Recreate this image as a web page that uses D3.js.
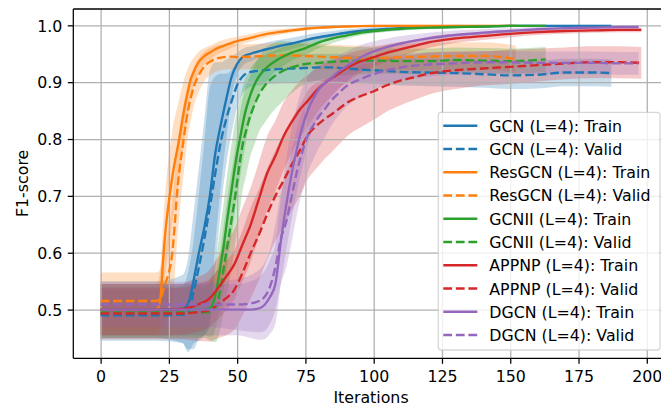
<!DOCTYPE html>
<html>
<head>
<meta charset="utf-8">
<script src="https://cdn.jsdelivr.net/npm/d3@7"></script>
<style>
  html, body { margin: 0; padding: 0; background: #fff; }
  svg { display: block; font-family: "DejaVu Sans", sans-serif; }
</style>
</head>
<body>
<svg id="chart" width="661" height="407"></svg>
<script>
// ---- Training curves (mean and std over runs), F1-score per iteration ----
const gcnIter  = [0,10,20,30,32,34,36,38,40,42,44,46,48,50,52,55,60,65,70,75,80,85,90,95,100,110,120,130,140,150,160,170,180,187];
const gcnTrain = [0.500,0.500,0.500,0.501,0.510,0.550,0.600,0.645,0.700,0.775,0.825,0.870,0.910,0.932,0.944,0.950,0.957,0.963,0.968,0.974,0.979,0.983,0.987,0.990,0.992,0.995,0.997,0.998,0.998,0.999,0.999,0.999,0.999,0.999];
const gcnTrainStd = [0.05,0.05,0.05,0.06,0.08,0.12,0.15,0.19,0.22,0.16,0.11,0.07,0.035,0.02,0.015,0.013,0.012,0.011,0.01,0.009,0.008,0.007,0.006,0.005,0.005,0.004,0.003,0.003,0.002,0.002,0.002,0.002,0.002,0.002];
const gcnValid = [0.490,0.490,0.490,0.491,0.495,0.530,0.575,0.625,0.680,0.740,0.795,0.835,0.867,0.895,0.910,0.918,0.921,0.923,0.924,0.925,0.926,0.926,0.924,0.922,0.921,0.918,0.917,0.916,0.914,0.912,0.913,0.917,0.917,0.916];
const gcnValidStd = [0.045,0.045,0.045,0.05,0.07,0.09,0.13,0.17,0.21,0.17,0.12,0.08,0.055,0.04,0.03,0.026,0.025,0.025,0.025,0.024,0.024,0.024,0.024,0.024,0.024,0.024,0.024,0.024,0.024,0.024,0.024,0.024,0.024,0.024];

const resIter  = [0,10,20,21,22,23,24,25,26,27,28,29,30,31,32,33,34,36,38,40,42,45,48,50,55,60,65,70,75,80,85,90,100,110,120,130,140,145,150,152];
const resTrain = [0.500,0.500,0.500,0.503,0.525,0.595,0.650,0.690,0.725,0.755,0.780,0.805,0.835,0.862,0.885,0.905,0.917,0.936,0.946,0.952,0.958,0.964,0.969,0.972,0.978,0.984,0.988,0.991,0.994,0.996,0.997,0.998,0.999,0.999,0.999,0.999,0.999,0.999,0.999,0.999];
const resTrainStd = [0.045,0.045,0.045,0.045,0.055,0.065,0.075,0.08,0.08,0.08,0.075,0.07,0.06,0.05,0.04,0.03,0.025,0.018,0.014,0.012,0.011,0.01,0.009,0.008,0.007,0.006,0.005,0.004,0.003,0.003,0.002,0.002,0.002,0.002,0.002,0.002,0.002,0.002,0.002,0.002];
const resValid = [0.515,0.515,0.515,0.516,0.520,0.535,0.550,0.565,0.590,0.640,0.705,0.750,0.785,0.820,0.850,0.872,0.890,0.913,0.928,0.936,0.941,0.944,0.945,0.944,0.945,0.946,0.947,0.947,0.946,0.945,0.944,0.943,0.942,0.944,0.945,0.946,0.946,0.945,0.942,0.940];
const resValidStd = [0.05,0.05,0.05,0.05,0.055,0.06,0.07,0.08,0.09,0.09,0.085,0.075,0.065,0.055,0.045,0.04,0.035,0.03,0.026,0.024,0.023,0.022,0.022,0.022,0.022,0.022,0.022,0.022,0.022,0.022,0.022,0.022,0.022,0.023,0.024,0.024,0.024,0.024,0.024,0.024];

const gcn2Iter  = [0,10,20,30,38,40,41,42,43,44,45,46,47,48,49,50,51,52,53,54,55,56,58,60,63,66,70,75,80,85,90,95,100,110,120,130,140,150,160,163];
const gcn2Train = [0.500,0.500,0.500,0.500,0.500,0.502,0.508,0.525,0.550,0.580,0.610,0.645,0.680,0.712,0.745,0.775,0.800,0.825,0.848,0.865,0.880,0.892,0.910,0.922,0.934,0.943,0.952,0.960,0.970,0.977,0.982,0.987,0.990,0.994,0.996,0.997,0.998,0.999,0.999,0.999];
const gcn2TrainStd = [0.045,0.045,0.045,0.045,0.045,0.05,0.055,0.06,0.065,0.07,0.075,0.08,0.08,0.08,0.08,0.075,0.07,0.065,0.06,0.05,0.045,0.04,0.032,0.026,0.02,0.017,0.014,0.012,0.01,0.008,0.006,0.005,0.004,0.003,0.003,0.002,0.002,0.002,0.002,0.002];
const gcn2Valid = [0.495,0.495,0.495,0.495,0.495,0.496,0.498,0.503,0.515,0.540,0.570,0.600,0.630,0.660,0.690,0.725,0.760,0.790,0.810,0.828,0.843,0.856,0.878,0.893,0.908,0.918,0.926,0.932,0.934,0.936,0.937,0.938,0.938,0.937,0.937,0.939,0.938,0.937,0.939,0.940];
const gcn2ValidStd = [0.045,0.045,0.045,0.045,0.045,0.05,0.055,0.06,0.065,0.07,0.075,0.08,0.085,0.085,0.085,0.085,0.085,0.08,0.08,0.075,0.07,0.07,0.065,0.065,0.06,0.055,0.045,0.035,0.03,0.027,0.025,0.024,0.023,0.022,0.022,0.022,0.022,0.022,0.022,0.022];

const appnpIter  = [0,10,20,25,30,35,40,43,46,49,52,55,58,61,64,67,70,73,76,79,82,85,88,91,95,100,105,110,115,120,130,140,150,160,170,180,190,198];
const appnpTrain = [0.500,0.500,0.500,0.500,0.501,0.508,0.520,0.538,0.558,0.580,0.615,0.650,0.695,0.740,0.770,0.805,0.830,0.852,0.868,0.885,0.898,0.908,0.918,0.927,0.936,0.944,0.952,0.958,0.964,0.970,0.977,0.981,0.985,0.988,0.990,0.991,0.992,0.992];
const appnpTrainStd = [0.045,0.045,0.045,0.045,0.045,0.048,0.05,0.055,0.06,0.062,0.065,0.065,0.065,0.065,0.062,0.06,0.055,0.05,0.045,0.04,0.035,0.03,0.027,0.024,0.02,0.017,0.015,0.013,0.011,0.01,0.008,0.007,0.006,0.005,0.005,0.004,0.004,0.004];
const appnpValid = [0.493,0.493,0.493,0.493,0.493,0.495,0.499,0.510,0.520,0.535,0.565,0.600,0.632,0.668,0.700,0.727,0.755,0.780,0.808,0.823,0.835,0.845,0.856,0.866,0.875,0.884,0.895,0.903,0.909,0.915,0.921,0.924,0.927,0.930,0.933,0.935,0.935,0.934];
const appnpValidStd = [0.045,0.045,0.045,0.045,0.045,0.05,0.055,0.06,0.065,0.07,0.075,0.08,0.08,0.08,0.08,0.08,0.08,0.08,0.078,0.075,0.07,0.066,0.062,0.058,0.055,0.05,0.046,0.043,0.04,0.037,0.033,0.03,0.03,0.029,0.028,0.028,0.028,0.028];

const dgcnIter  = [0,10,20,30,40,50,55,58,60,62,64,66,68,70,72,74,76,78,80,82,84,87,90,95,100,105,110,120,130,140,150,160,170,180,190,197];
const dgcnTrain = [0.500,0.500,0.500,0.500,0.500,0.500,0.500,0.502,0.508,0.522,0.545,0.620,0.685,0.740,0.785,0.823,0.852,0.872,0.888,0.898,0.905,0.918,0.928,0.943,0.954,0.962,0.968,0.977,0.983,0.987,0.990,0.993,0.995,0.996,0.997,0.997];
const dgcnTrainStd = [0.045,0.045,0.045,0.045,0.045,0.045,0.05,0.055,0.06,0.065,0.07,0.075,0.08,0.08,0.075,0.07,0.06,0.05,0.045,0.04,0.035,0.03,0.026,0.022,0.018,0.015,0.013,0.01,0.008,0.006,0.005,0.004,0.004,0.003,0.003,0.003];
const dgcnValid = [0.509,0.509,0.509,0.509,0.509,0.509,0.511,0.515,0.522,0.540,0.575,0.625,0.655,0.700,0.745,0.780,0.808,0.825,0.840,0.852,0.865,0.880,0.893,0.905,0.914,0.921,0.926,0.931,0.933,0.935,0.935,0.934,0.934,0.934,0.933,0.933];
const dgcnValidStd = [0.04,0.04,0.04,0.04,0.04,0.045,0.05,0.055,0.06,0.065,0.075,0.08,0.08,0.08,0.075,0.07,0.065,0.06,0.055,0.05,0.045,0.04,0.036,0.032,0.028,0.025,0.023,0.021,0.02,0.02,0.02,0.02,0.02,0.02,0.02,0.02];

const modelNames  = ["GCN", "ResGCN", "GCNII", "APPNP", "DGCN"];
const modelColors = ["#1f77b4", "#ff7f0e", "#2ca02c", "#d62728", "#9467bd"];
const xTickValues = [0, 25, 50, 75, 100, 125, 150, 175, 200];
const yTickValues = [0.5, 0.6, 0.7, 0.8, 0.9, 1.0];
const xLabel = "Iterations";
const yLabel = "F1-score";

// ---- assemble series ----
const runs = [
  [gcnIter, gcnTrain, gcnTrainStd, gcnValid, gcnValidStd],
  [resIter, resTrain, resTrainStd, resValid, resValidStd],
  [gcn2Iter, gcn2Train, gcn2TrainStd, gcn2Valid, gcn2ValidStd],
  [appnpIter, appnpTrain, appnpTrainStd, appnpValid, appnpValidStd],
  [dgcnIter, dgcnTrain, dgcnTrainStd, dgcnValid, dgcnValidStd]
];
const series = [];
runs.forEach((r, k) => {
  const [it, tr, trs, va, vas] = r;
  series.push({ label: `${modelNames[k]} (L=4): Train`, color: modelColors[k], dashed: false,
    pts: it.map((d, i) => ({ i: d, m: tr[i], s: trs[i] })) });
  series.push({ label: `${modelNames[k]} (L=4): Valid`, color: modelColors[k], dashed: true,
    pts: it.map((d, i) => ({ i: d, m: va[i], s: vas[i] })) });
});

// ---- layout ----
const W = 661, H = 407;
const L = 73.3, R = 665.9, T = 9, B = 358.3;
const px = 1.58; // pixels per point
const svg = d3.select("#chart");

const x = d3.scaleLinear().domain([-10, 207]).range([L, R]);
const y = d3.scaleLinear().domain([0.4143, 1.0287]).range([B, T]);

svg.append("defs").append("clipPath").attr("id", "plotclip")
  .append("rect").attr("x", L).attr("y", T).attr("width", R - L).attr("height", B - T);

const plot = svg.append("g").attr("clip-path", "url(#plotclip)");

// std bands (drawn beneath grid and lines)
const area = d3.area()
  .x(d => x(d.i)).y0(d => y(d.m - d.s)).y1(d => y(d.m + d.s))
  .curve(d3.curveMonotoneX);
plot.append("g").selectAll("path").data(series).join("path")
  .attr("d", d => area(d.pts))
  .attr("fill", d => d.color)
  .attr("fill-opacity", 0.25)
  .attr("stroke", "none");

// grid
const gridW = 0.8 * px;
plot.append("g").attr("transform", `translate(0,${B})`)
  .call(d3.axisBottom(x).tickValues(xTickValues).tickSize(-(B - T)).tickFormat(""))
  .call(g => g.select(".domain").remove())
  .call(g => g.selectAll("line").attr("stroke", "#b0b0b0").attr("stroke-width", gridW));
plot.append("g").attr("transform", `translate(${L},0)`)
  .call(d3.axisLeft(y).tickValues(yTickValues).tickSize(-(R - L)).tickFormat(""))
  .call(g => g.select(".domain").remove())
  .call(g => g.selectAll("line").attr("stroke", "#b0b0b0").attr("stroke-width", gridW));

// mean curves
const line = d3.line().x(d => x(d.i)).y(d => y(d.m)).curve(d3.curveMonotoneX);
const lw = 1.5 * px;
const dash = `${(5.55 * px).toFixed(2)},${(2.4 * px).toFixed(2)}`;
plot.append("g").selectAll("path").data(series).join("path")
  .attr("d", d => line(d.pts))
  .attr("fill", "none")
  .attr("stroke", d => d.color)
  .attr("stroke-width", lw)
  .attr("stroke-dasharray", d => d.dashed ? dash : null);

// spines
const spineW = 0.8 * px;
svg.append("line").attr("x1", L).attr("x2", W).attr("y1", T).attr("y2", T)
  .attr("stroke", "#000").attr("stroke-width", spineW);
svg.append("line").attr("x1", L).attr("x2", W).attr("y1", B).attr("y2", B)
  .attr("stroke", "#000").attr("stroke-width", spineW);
svg.append("line").attr("x1", L).attr("x2", L).attr("y1", T).attr("y2", B)
  .attr("stroke", "#000").attr("stroke-width", spineW);

// axes with ticks and labels
const fs = 15.8;
const xAxis = svg.append("g").attr("transform", `translate(0,${B})`)
  .call(d3.axisBottom(x).tickValues(xTickValues).tickSizeInner(3.5 * px).tickSizeOuter(0).tickPadding(3.5 * px).tickFormat(d3.format("d")));
xAxis.select(".domain").remove();
xAxis.selectAll("line").attr("stroke", "#000").attr("stroke-width", spineW);
xAxis.selectAll("text").attr("font-size", fs).attr("fill", "#000")
  .attr("font-family", "DejaVu Sans").attr("dy", null).attr("y", 23.4);

const yAxis = svg.append("g").attr("transform", `translate(${L},0)`)
  .call(d3.axisLeft(y).tickValues(yTickValues).tickSizeInner(3.5 * px).tickSizeOuter(0).tickPadding(3.5 * px).tickFormat(d3.format(".1f")));
yAxis.select(".domain").remove();
yAxis.selectAll("line").attr("stroke", "#000").attr("stroke-width", spineW);
yAxis.selectAll("text").attr("font-size", fs).attr("fill", "#000")
  .attr("font-family", "DejaVu Sans").attr("dy", null).attr("y", 5.7);

svg.append("text").attr("x", 371).attr("y", 403.3).attr("text-anchor", "middle")
  .attr("font-size", fs).attr("fill", "#000").text(xLabel);
svg.append("text").attr("transform", "translate(28.3,183.4) rotate(-90)")
  .attr("text-anchor", "middle").attr("font-size", fs).attr("fill", "#000").text(yLabel);

// legend
const lg = svg.append("g");
const lgX = 438.3, lgY = 112.3, lgW = 221.7, lgH = 237.7, rowH = 23.26, row0 = 125.7;
lg.append("rect").attr("x", lgX).attr("y", lgY).attr("width", lgW).attr("height", lgH)
  .attr("rx", 3).attr("ry", 3)
  .attr("fill", "#fff").attr("fill-opacity", 0.8)
  .attr("stroke", "#cccccc").attr("stroke-opacity", 0.8).attr("stroke-width", spineW);
const items = lg.selectAll("g.item").data(series).join("g").attr("class", "item")
  .attr("transform", (d, i) => `translate(0,${row0 + i * rowH})`);
items.append("line").attr("x1", 443.3).attr("x2", 477.3).attr("y1", 0).attr("y2", 0)
  .attr("stroke", d => d.color).attr("stroke-width", lw)
  .attr("stroke-dasharray", d => d.dashed ? dash : null);
items.append("text").attr("x", 489.3).attr("y", 6)
  .attr("font-size", fs).attr("fill", "#000").text(d => d.label);
</script>
</body>
</html>
